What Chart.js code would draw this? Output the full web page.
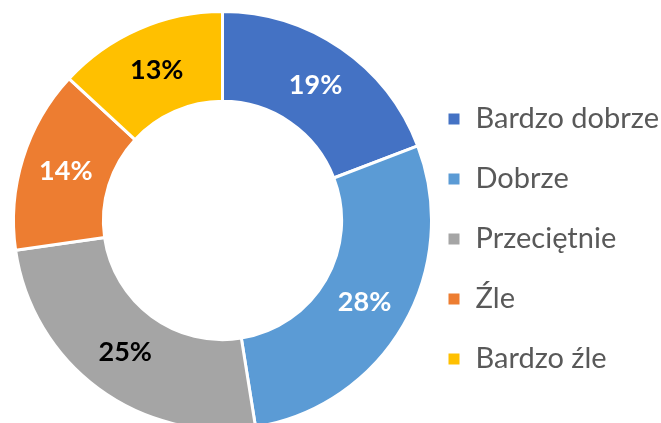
<!DOCTYPE html>
<html>
<head>
<meta charset="utf-8">
<script src="https://cdn.jsdelivr.net/npm/chart.js@4.4.0/dist/chart.umd.min.js"></script>
<style>
  html, body { margin: 0; padding: 0; background: #ffffff; overflow: hidden; }
  #wrap { position: relative; width: 661px; height: 423px; }
</style>
</head>
<body>
<div id="wrap"><canvas id="c" width="661" height="423"></canvas></div>
<script>
const categories = ['Bardzo dobrze', 'Dobrze', 'Przeciętnie', 'Źle', 'Bardzo źle'];
const values = [19, 28, 25, 14, 13];
const valueLabels = ['19%', '28%', '25%', '14%', '13%'];
const colors = ['#4472C4', '#5B9BD5', '#A5A5A5', '#ED7D31', '#FFC000'];
const labelColors = ['#FFFFFF', '#FFFFFF', '#000000', '#FFFFFF', '#000000'];

const sliceLabels = {
  id: 'sliceLabels',
  afterDatasetsDraw(chart) {
    const ctx = chart.ctx;
    const meta = chart.getDatasetMeta(0);
    ctx.save();
    ctx.font = 'bold 27px Lato';
    ctx.textAlign = 'center';
    ctx.textBaseline = 'middle';
    meta.data.forEach((arc, i) => {
      const p = arc.getCenterPoint();
      ctx.fillStyle = labelColors[i];
      ctx.fillText(valueLabels[i], p.x, p.y);
    });
    ctx.restore();
  }
};

new Chart(document.getElementById('c'), {
  type: 'doughnut',
  data: {
    labels: categories,
    datasets: [{
      data: values,
      backgroundColor: colors,
      borderColor: '#FFFFFF',
      borderWidth: 3,
      radius: 209,
      cutout: '57%'
    }]
  },
  options: {
    responsive: false,
    animation: false,
    layout: { padding: { left: 29, right: 0, top: 36.5, bottom: 18.5 } },
    plugins: {
      tooltip: { enabled: false },
      legend: {
        position: 'right',
        align: 'end',
        maxWidth: 245,
        labels: {
          boxWidth: 14,
          boxHeight: 14,
          padding: 31,
          color: '#595959',
          font: { family: 'Lato', size: 29 }
        }
      }
    }
  },
  plugins: [sliceLabels]
});
</script>
</body>
</html>
